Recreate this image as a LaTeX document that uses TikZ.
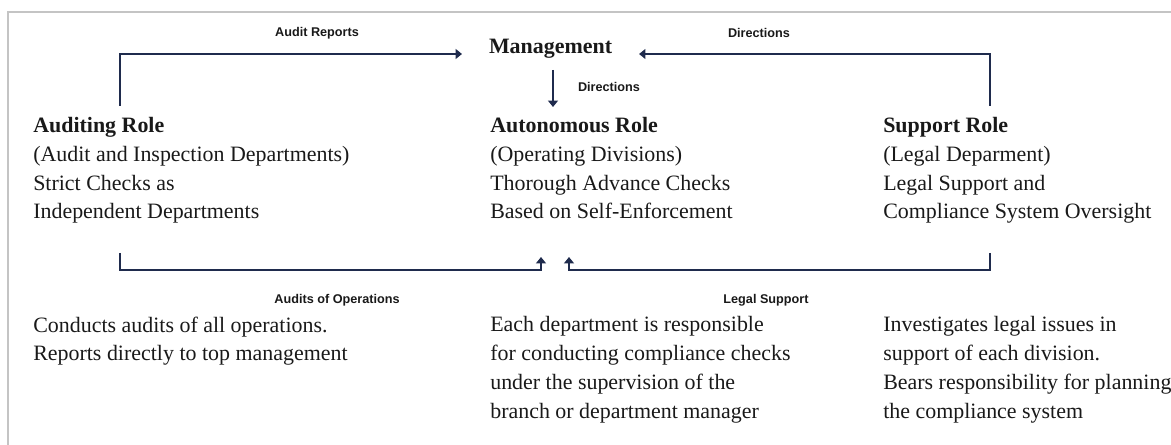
\documentclass[tikz,border=0pt]{standalone}
\usepackage{fontspec}
\setmainfont{Liberation Serif}
\newfontfamily\flowfont{Liberation Sans}
\usetikzlibrary{arrows.meta}
\definecolor{navy}{HTML}{1F2B4D}
\definecolor{framegray}{HTML}{C4C4C4}

\begin{document}
\begin{tikzpicture}[x=0.025cm,y=-0.025cm,
    roletext/.style={anchor=base west,align=left,inner sep=0pt,text=black!90,
        font=\fontsize{15.6}{20.4}\selectfont},
    flowlabel/.style={inner sep=0pt,text=black!90,font=\flowfont\bfseries\fontsize{9}{10}\selectfont},
    link/.style={navy,line width=0.9pt,-{Triangle[width=7pt,length=4.5pt]}}]
    \useasboundingbox (0,0) rectangle (1171,445);
    \draw[framegray,line width=1.3pt] (1171,12)--(8,12)--(8,445);
    % management on top
    \node[roletext,inner xsep=19pt,font=\fontsize{15.6}{20.4}\selectfont\bfseries] (mgmt) at (462,54) {Management};
    % the three roles (placed by the baseline of their last line)
    \node[roletext] (audit) at (33,219) {\textbf{Auditing Role}\\(Audit and Inspection Departments)\\Strict Checks as\\Independent Departments};
    \node[roletext] (auton) at (490,219) {\textbf{Autonomous Role}\\(Operating Divisions)\\Thorough Advance Checks\\Based on Self-Enforcement};
    \node[roletext] (supp) at (883,219) {\textbf{Support Role}\\(Legal Deparment)\\Legal Support and\\Compliance System Oversight};
    \node[roletext] (auditnote) at (33,361) {Conducts audits of all operations.\\Reports directly to top management};
    \node[roletext] (autonnote) at (490,418) {Each department is responsible\\for conducting compliance checks\\under the supervision of the\\branch or department manager};
    \node[roletext] (suppnote) at (883,418) {Investigates legal issues in\\support of each division.\\Bears responsibility for planning\\the compliance system};
    \coordinate (audtop) at (120,106);
    \coordinate (audbot) at (120,253);
    \coordinate (supptop) at (990,106);
    \coordinate (suppbot) at (990,253);
    \coordinate (downtop) at (553,70);
    \coordinate (downtip) at (553,107);
    \coordinate (autonl) at (541,257);
    \coordinate (autonr) at (569,257);
    \draw[link] (audtop) |- (mgmt.base west);
    \draw[link] (supptop) |- (mgmt.base east);
    \draw[link] (downtop)--(downtip);
    \draw[link] (audbot)--++(0,17) -| (autonl);
    \draw[link] (suppbot)--++(0,17) -| (autonr);
    \node[flowlabel] (lblreports) at (317,33) {Audit Reports};
    \node[flowlabel] (lbldirtop) at (759,33) {Directions};
    \node[flowlabel] (lbldirdown) at (609,87) {Directions};
    \node[flowlabel] (lblaudits) at (337,300) {Audits of Operations};
    \node[flowlabel] (lbllegal) at (766,300) {Legal Support};
\end{tikzpicture}
\end{document}
